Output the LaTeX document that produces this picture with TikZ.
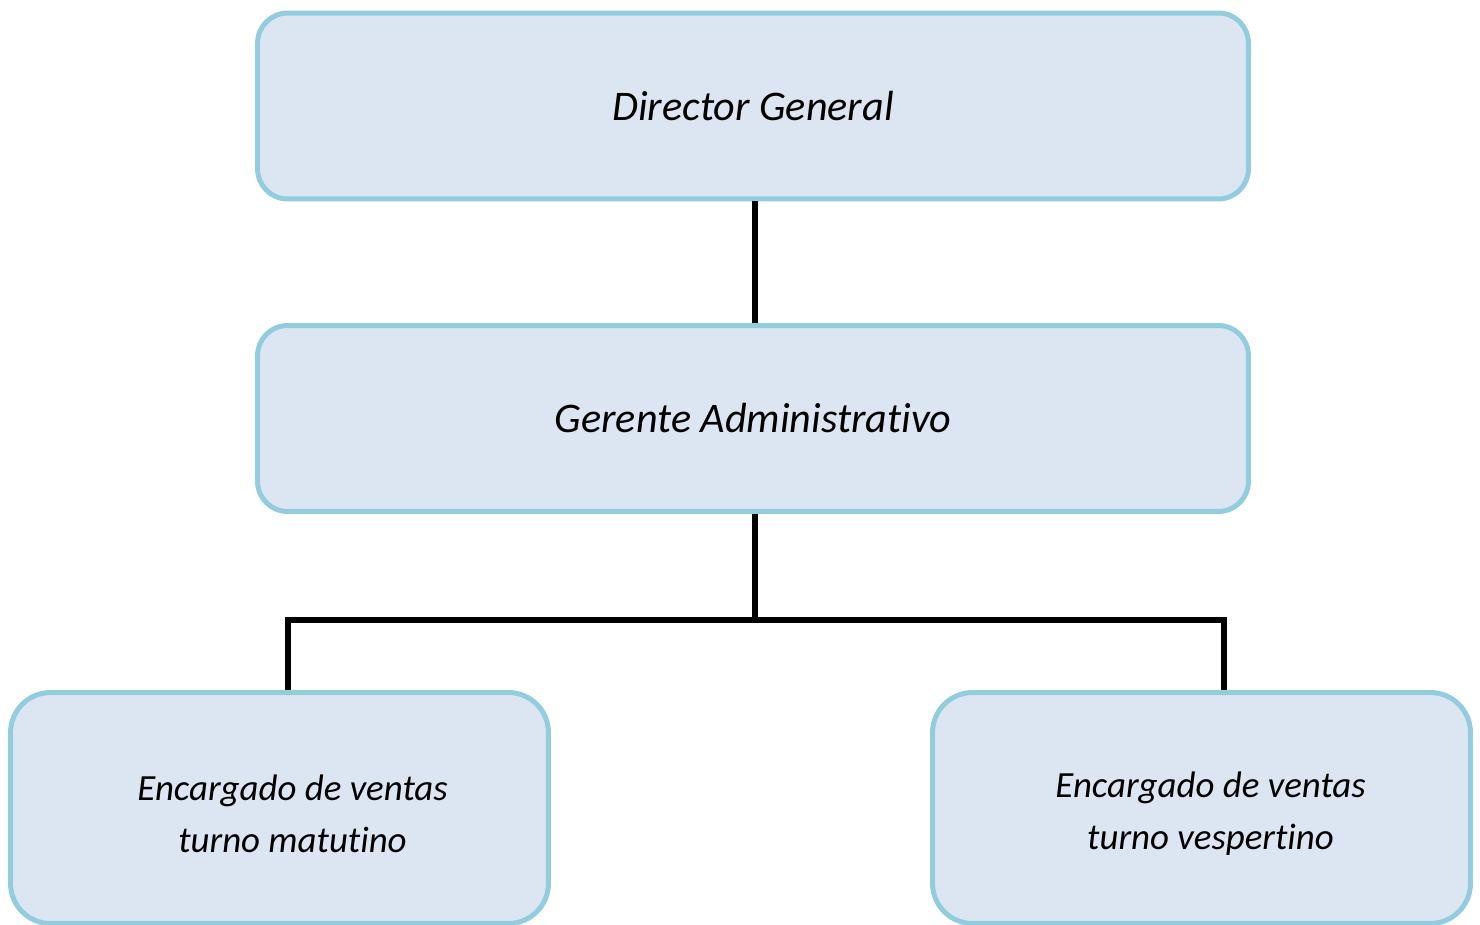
\documentclass[tikz,border=0pt]{standalone}
\usepackage{fontspec}
\setmainfont[Ligatures=NoCommon]{Carlito}
\usetikzlibrary{calc}
\definecolor{boxfill}{HTML}{DCE6F2}
\definecolor{boxline}{HTML}{93CDDD}
\tikzset{
	puesto/.style={draw=boxline, fill=boxfill, line width=0.1cm, rounded corners=0.6cm, align=center, font=\itshape\fontsize{24}{30}\selectfont},
	encargado/.style={puesto, rounded corners=0.8cm, minimum width=10.76cm, minimum height=4.62cm},
	rotulo/.style={align=center, font=\itshape\fontsize{21}{29.5}\selectfont},
	linea/.style={line width=0.12cm, color=black}
}
\begin{document}
\begin{tikzpicture}[x=0.02cm, y=-0.02cm]
		%%%%% START %%%%%
		\useasboundingbox (0, 0) rectangle (1480, 925);
		
		\node[puesto, minimum width=19.82cm, minimum height=3.72cm] (director) at (753, 106) {\raisebox{-0.1cm}{Director General}};
		\node[puesto, minimum width=19.82cm, minimum height=3.72cm] (gerente) at (753, 418.5) {Gerente Administrativo};
		
		\node[encargado] (matutino) at (279.5, 808) {};
		\node[encargado] (vespertino) at (1201.5, 808) {};
		\node[rotulo] (matutinotxt) at ([shift={(13, 6)}]matutino.center) {Encargado de ventas\\turno matutino};
		\node[rotulo] (vespertinotxt) at ([shift={(9, 6)}]vespertino.center) {Encargado de ventas\\turno vespertino};
		
		\coordinate (rama) at (755, 620);
		\coordinate (ramaizq) at (288, 620);
		\coordinate (ramader) at (1224, 620);
		
		\draw[linea] (director.south -| rama) -- (gerente.north -| rama);
		\draw[linea] (gerente.south -| rama) -- (rama);
		\draw[linea] (ramaizq |- matutino.north) -- (ramaizq) -- (ramader) -- (ramader |- vespertino.north);
		
		%%%%% END %%%%%
	\end{tikzpicture}
\end{document}
